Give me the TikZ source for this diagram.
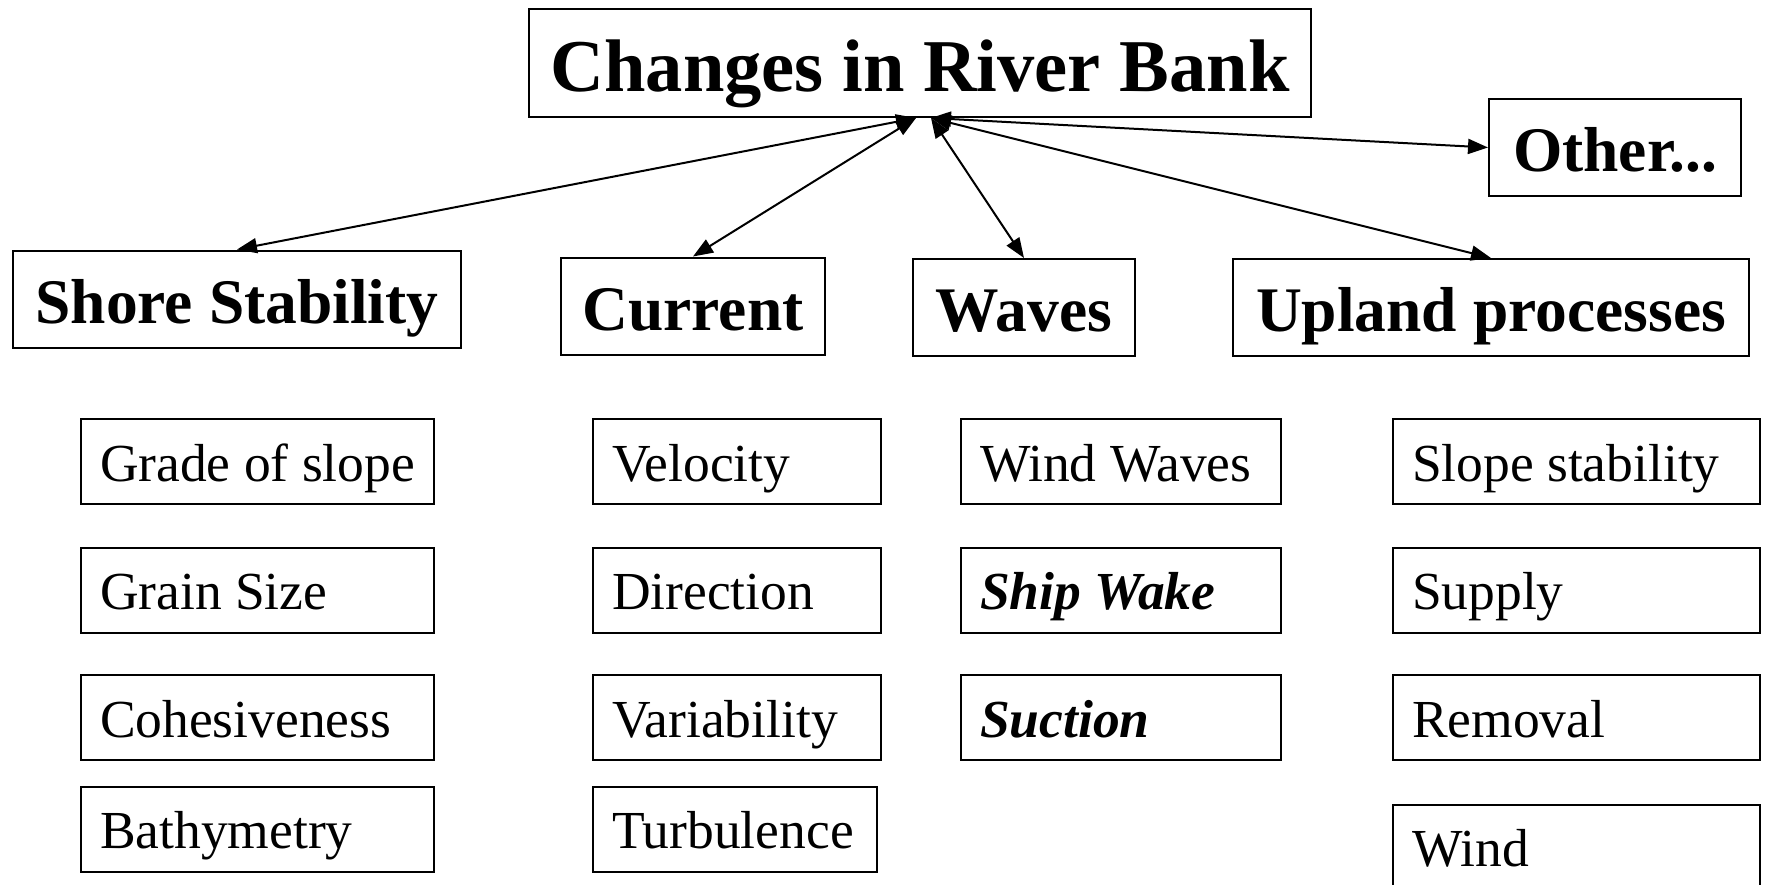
\documentclass[tikz,border=0pt]{standalone}
\usepackage{fontspec}
\setmainfont{Liberation Serif}
\usetikzlibrary{arrows.meta,positioning}

\begin{document}
\begin{tikzpicture}[
    x=1pt, y=-1pt,
    topbox/.style={
        rectangle, draw, line width=2pt, minimum width=782pt, minimum height=108pt,
        font=\fontsize{74.5}{80}\selectfont\bfseries, text height=56pt, text depth=0pt
    },
    factor/.style={
        rectangle, draw, line width=2pt, minimum width=#1, minimum height=97pt,
        font=\fontsize{63.5}{70}\selectfont\bfseries, text height=48pt, text depth=0pt
    },
    item/.style={
        rectangle, draw, line width=2pt, text width=#1, inner xsep=19pt,
        minimum height=85pt, align=flush left,
        font=\fontsize{53.5}{60}\selectfont, text height=39pt, text depth=0pt
    },
    link/.style={
        {Triangle[length=20pt, width=15pt]}-{Triangle[length=20pt, width=15pt]},
        line width=2pt
    }
]
\useasboundingbox (0,0) rectangle (1767,884);

% Main topic
\node[topbox] (bank) at (920, 63) {Changes in River Bank};
\coordinate (hubL) at ([xshift=-4pt]bank.south);
\coordinate (hubR) at ([xshift=11pt]bank.south);

% Factors
\node[factor=252pt] (other) at (1615, 147.5) {Other...};
\node[factor=448pt] (shore) at (237, 299) {Shore Stability};
\node[factor=264pt] (current) at (693, 306) {Current};
\node[factor=222pt] (waves) at (1024, 307.5) {Waves};
\node[factor=516pt] (upland) at (1491, 307.5) {Upland processes};

% Links to main topic
\draw[link] (hubL) -- (shore.north);
\draw[link] (hubL) -- (current.north);
\draw[link] (hubR) -- (waves.north);
\draw[link] (hubR) -- (upland.north);
\draw[link] (hubR) -- (other.west);

% Shore stability items
\node[item=315pt] (grade) at (257.5, 461.5) {Grade~of~slope};
\node[item=315pt] (grain) at (257.5, 590) {Grain~Size};
\node[item=315pt] (cohesion) at (257.5, 717.5) {Cohesiveness};
\node[item=315pt] (bathy) at (257.5, 829) {Bathymetry};

% Current items
\node[item=250pt] (velocity) at (737, 461.5) {Velocity};
\node[item=250pt] (direction) at (737, 590) {Direction};
\node[item=250pt] (variability) at (737, 717.5) {Variability};
\node[item=246pt] (turbulence) at (735, 829) {Turbulence};

% Wave items
\node[item=282pt] (windwaves) at (1121, 461.5) {Wind~Waves};
\node[item=282pt] (wake) at (1121, 590) {\textbf{\textit{Ship~Wake}}};
\node[item=282pt] (suction) at (1121, 717.5) {\textbf{\textit{Suction}}};

% Upland items
\node[item=329pt] (slope) at (1576.5, 461.5) {Slope~stability};
\node[item=329pt] (supply) at (1576.5, 590) {Supply};
\node[item=329pt] (removal) at (1576.5, 717.5) {Removal};
\node[item=329pt] (wind) at (1576.5, 847) {Wind};

\end{tikzpicture}
\end{document}
